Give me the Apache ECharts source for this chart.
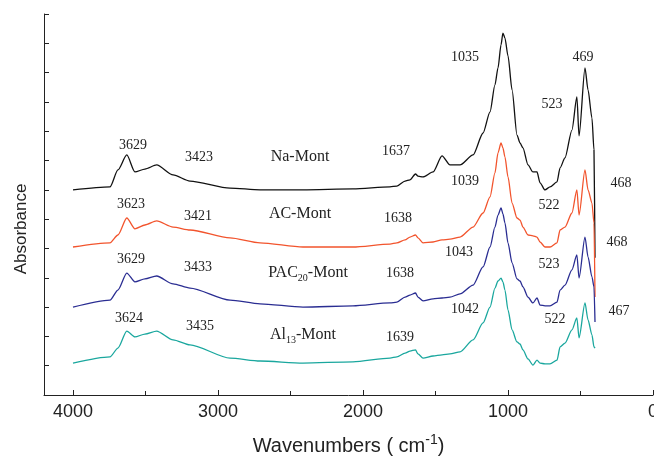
<!DOCTYPE html>
<html>
<head>
<meta charset="utf-8">
<script src="https://cdn.jsdelivr.net/npm/echarts@6/dist/echarts.min.js"></script>
<style>
html, body { margin: 0; padding: 0; background: #fff; }
#main { width: 654px; height: 459px; }
</style>
</head>
<body>
<div id="main"></div>
<script>
// wavenumbers (cm-1), shared by all four spectra
var wavenumbers = [4000, 3745, 3690, 3629, 3573, 3504, 3423, 3310, 3193, 2917, 2710, 2414, 2069, 1814, 1766, 1710, 1676, 1638, 1621, 1586, 1517, 1455, 1400, 1331, 1241, 1172, 1124, 1090, 1069, 1048, 1035, 1021, 1000, 972, 938, 917, 897, 862, 828, 800, 779, 745, 710, 662, 641, 607, 559, 525, 510, 469, 448, 421, 407, 400];

var naMont = [0.700, 0.710, 0.768, 0.819, 0.761, 0.771, 0.785, 0.751, 0.730, 0.706, 0.700, 0.700, 0.703, 0.710, 0.713, 0.730, 0.734, 0.754, 0.747, 0.744, 0.761, 0.816, 0.785, 0.785, 0.819, 0.894, 0.966, 1.058, 1.116, 1.195, 1.235, 1.218, 1.157, 1.041, 0.887, 0.860, 0.843, 0.785, 0.761, 0.761, 0.724, 0.700, 0.710, 0.727, 0.775, 0.809, 0.904, 1.017, 0.884, 1.116, 1.041, 0.945, 0.836, 0.468];

var acMont = [0.505, 0.519, 0.546, 0.604, 0.567, 0.580, 0.594, 0.573, 0.563, 0.536, 0.519, 0.505, 0.505, 0.515, 0.519, 0.529, 0.539, 0.546, 0.536, 0.519, 0.522, 0.529, 0.532, 0.539, 0.573, 0.621, 0.676, 0.758, 0.826, 0.860, 0.843, 0.812, 0.744, 0.655, 0.604, 0.597, 0.573, 0.546, 0.543, 0.539, 0.522, 0.505, 0.505, 0.519, 0.563, 0.573, 0.621, 0.700, 0.614, 0.768, 0.700, 0.655, 0.587, 0.334];

var pacMont = [0.300, 0.324, 0.358, 0.416, 0.386, 0.396, 0.406, 0.379, 0.365, 0.324, 0.311, 0.300, 0.304, 0.314, 0.317, 0.334, 0.341, 0.348, 0.334, 0.321, 0.328, 0.331, 0.334, 0.345, 0.375, 0.437, 0.505, 0.573, 0.614, 0.638, 0.618, 0.587, 0.519, 0.451, 0.396, 0.389, 0.369, 0.334, 0.314, 0.331, 0.307, 0.304, 0.304, 0.317, 0.358, 0.375, 0.427, 0.478, 0.399, 0.539, 0.471, 0.403, 0.369, 0.249];

var alMont = [0.109, 0.130, 0.160, 0.218, 0.198, 0.208, 0.218, 0.188, 0.171, 0.126, 0.116, 0.109, 0.113, 0.126, 0.130, 0.143, 0.150, 0.154, 0.140, 0.126, 0.133, 0.137, 0.140, 0.147, 0.188, 0.246, 0.300, 0.365, 0.389, 0.399, 0.386, 0.358, 0.290, 0.222, 0.181, 0.174, 0.154, 0.123, 0.102, 0.119, 0.109, 0.106, 0.106, 0.119, 0.164, 0.177, 0.222, 0.263, 0.195, 0.314, 0.256, 0.205, 0.164, 0.160];

var seriesNames = ['Na-Mont', 'AC-Mont', 'PAC20-Mont', 'Al13-Mont'];
var seriesColors = ['#111111', '#f2542d', '#2a2d92', '#1aa79e'];
var seriesValues = [naMont, acMont, pacMont, alMont];

// peak annotations: [text, x, y]
var peakLabels = [
    ['3629', 133, 145], ['3423', 199, 157], ['1637', 396, 151], ['1035', 465, 57], ['523', 552, 104], ['469', 583, 57], ['468', 621, 183],
    ['3623', 131, 204], ['3421', 198, 216], ['1638', 398, 218], ['1039', 465, 181], ['522', 549, 205], ['468', 617, 242],
    ['3629', 131, 259], ['3433', 198, 267], ['1638', 400, 273], ['1043', 459, 252], ['523', 549, 264],
    ['3624', 129, 318], ['3435', 200, 326], ['1639', 400, 337], ['1042', 465, 309], ['522', 555, 319], ['467', 619, 311]
];
var nameLabels = [
    ['Na-Mont', 300, 157], ['AC-Mont', 300, 214], ['PAC{sub|20}-Mont', 308, 273], ['Al{sub|13}-Mont', 303, 335]
];

var myChart = echarts.init(document.getElementById('main'));

var graphics = [];
peakLabels.forEach(function (p) {
    graphics.push({
        type: 'text', x: p[1], y: p[2],
        style: { text: p[0], fill: '#222', font: '14px "Liberation Serif"', align: 'center', verticalAlign: 'middle' }
    });
});
nameLabels.forEach(function (p) {
    graphics.push({
        type: 'text', x: p[1], y: p[2],
        style: {
            text: p[0], fill: '#222', font: '16px "Liberation Serif"', align: 'center', verticalAlign: 'middle',
            rich: { sub: { fontSize: 10, fontFamily: 'Liberation Serif', fill: '#222', padding: [10, 0, 0, 0] } }
        }
    });
});
// y axis title sits a bit below the middle of the axis
graphics.push({
    type: 'text', x: 21, y: 229, rotation: Math.PI / 2,
    style: { text: 'Absorbance', fill: '#222', font: '17px "Liberation Sans"', align: 'center', verticalAlign: 'middle' }
});

var option = {
    animation: false,
    grid: { left: 44, right: 1, top: 14, bottom: 64, outerBoundsMode: 'none' },
    xAxis: {
        type: 'value',
        inverse: true,
        min: 0,
        max: 4200,
        interval: 1000,
        name: '{a|Wavenumbers ( cm}{sup|-1}{a|)}',
        nameLocation: 'middle',
        nameGap: 38,
        nameTextStyle: {
            rich: {
                a: { fontFamily: 'Liberation Sans', fontSize: 20, color: '#222' },
                sup: { fontFamily: 'Liberation Sans', fontSize: 14, color: '#222', padding: [0, 0, 12, 0] }
            }
        },
        axisLine: { onZero: false, lineStyle: { color: '#222', width: 1 } },
        axisTick: { inside: true, length: 5, lineStyle: { color: '#222' } },
        minorTick: { show: true, splitNumber: 2, length: 4, lineStyle: { color: '#222' } },
        axisLabel: {
            fontFamily: 'Liberation Sans', fontSize: 18, color: '#222', margin: 8, showMaxLabel: false,
            formatter: function (v) { return String(v); }
        },
        splitLine: { show: false }
    },
    yAxis: {
        type: 'value',
        position: 'left',
        min: 0,
        max: 1.3,
        interval: 0.1,
        axisLine: { show: true, onZero: false, lineStyle: { color: '#222', width: 1 } },
        axisTick: { show: true, inside: true, length: 5, lineStyle: { color: '#222' } },
        axisLabel: { show: false },
        splitLine: { show: false }
    },
    series: seriesValues.map(function (vals, i) {
        return {
            name: seriesNames[i],
            type: 'line',
            data: wavenumbers.map(function (w, j) { return [w, vals[j]]; }),
            showSymbol: false,
            smooth: 0.25,
            smoothMonotone: 'x',
            lineStyle: { color: seriesColors[i], width: 1.3 },
            itemStyle: { color: seriesColors[i] }
        };
    }),
    graphic: graphics
};
myChart.setOption(option);
window.addEventListener('resize', function () {
    myChart.resize();
});
</script>
</body>
</html>
